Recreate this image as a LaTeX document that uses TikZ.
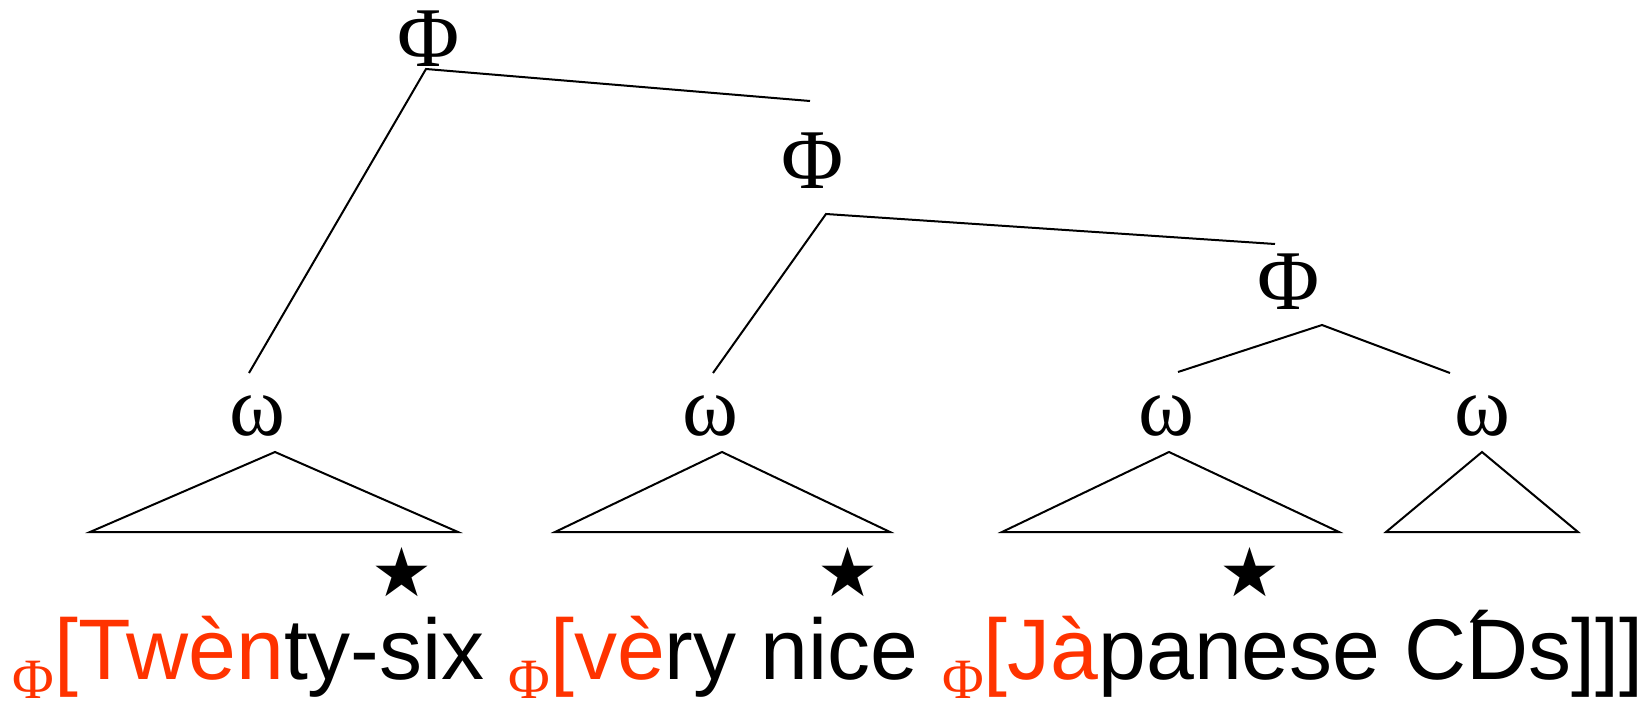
\documentclass[tikz,border=0pt]{standalone}
\usepackage{fontspec}
\setmainfont{Liberation Sans}
\newfontfamily\grk{Liberation Serif}
\newfontfamily\symf{DejaVu Sans}
\definecolor{phired}{RGB}{255,51,0}
\newcommand\lowphi{\raisebox{-9.5pt}{\grk\fontsize{28.5}{28.5}\selectfont Φ}}
\begin{document}
\begin{tikzpicture}[x=0.5pt,y=-0.5pt,
  lab/.style={inner sep=0pt, anchor=base, font=\grk\fontsize{42.5}{42.5}\selectfont},
  starmark/.style={inner sep=0pt, anchor=center, font=\symf\fontsize{34}{34}\selectfont},
  branch/.style={line width=1pt},
  words/.style={inner sep=0pt, anchor=base west, font=\fontsize{43}{43}\selectfont}]
\useasboundingbox (0,0) rectangle (1650,701);

% category labels
\node[lab] (p1) at (429,67) {Φ};
\node[lab] (p2) at (813,189) {Φ};
\node[lab] (p3) at (1289,309) {Φ};
\node[lab] (w1) at (257,435) {ω};
\node[lab] (w2) at (710,435) {ω};
\node[lab] (w3) at (1166,435) {ω};
\node[lab] (w4) at (1482,435) {ω};

% branch end points
\coordinate (v1) at (426,69);
\coordinate (r1) at (810,101);
\coordinate (l1) at (249,373);
\coordinate (v2) at (826,214);
\coordinate (r2) at (1275,244);
\coordinate (l2) at (713,373);
\coordinate (v3) at (1322,325);
\coordinate (l3) at (1178,372);
\coordinate (r3) at (1450,373);

\draw[branch] (l1) -- (v1) -- (r1);
\draw[branch] (l2) -- (v2) -- (r2);
\draw[branch] (l3) -- (v3) -- (r3);

% triangles
\coordinate (t1a) at (275,452); \coordinate (t1l) at (90,532); \coordinate (t1r) at (458,532);
\coordinate (t2a) at (722,452); \coordinate (t2l) at (555,532); \coordinate (t2r) at (890,532);
\coordinate (t3a) at (1169,452); \coordinate (t3l) at (1002,532); \coordinate (t3r) at (1339,532);
\coordinate (t4a) at (1482,452); \coordinate (t4l) at (1386,532); \coordinate (t4r) at (1578,532);
\draw[branch] (t1a) -- (t1r) -- (t1l) -- cycle;
\draw[branch] (t2a) -- (t2r) -- (t2l) -- cycle;
\draw[branch] (t3a) -- (t3r) -- (t3l) -- cycle;
\draw[branch] (t4a) -- (t4r) -- (t4l) -- cycle;

% stars
\node[starmark] (s1) at (402,572) {★};
\node[starmark] (s2) at (848,572) {★};
\node[starmark] (s3) at (1250,572) {★};

% sentence
\node[words] (sent) at (12.5,679) {{\color{phired}\lowphi[Twèn}ty-six {\color{phired}\lowphi[vè}ry nice {\color{phired}\lowphi[Jà}panese C\makebox[0pt]{\kern0.35em\raisebox{3pt}{´}}Ds]]]};
\end{tikzpicture}
\end{document}
